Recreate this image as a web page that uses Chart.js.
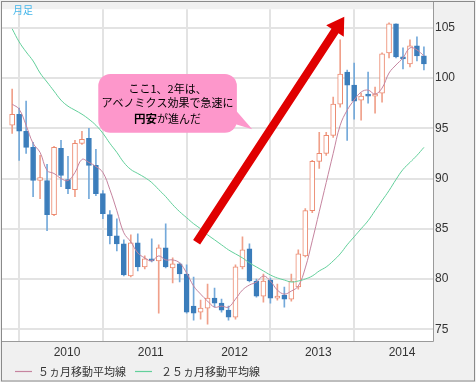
<!DOCTYPE html>
<html><head><meta charset="utf-8">
<script src="https://cdn.jsdelivr.net/npm/chart.js@4.4.1/dist/chart.umd.min.js"></script>
<style>html,body{margin:0;padding:0;background:#f0f0f0;overflow:hidden}canvas{display:block}</style>
</head><body>
<canvas id="c" width="476" height="382"></canvas>
<script>
const months = [
 '2009-06','2009-07','2009-08','2009-09','2009-10','2009-11','2009-12',
 '2010-01','2010-02','2010-03','2010-04','2010-05','2010-06','2010-07','2010-08','2010-09','2010-10','2010-11','2010-12',
 '2011-01','2011-02','2011-03','2011-04','2011-05','2011-06','2011-07','2011-08','2011-09','2011-10','2011-11','2011-12',
 '2012-01','2012-02','2012-03','2012-04','2012-05','2012-06','2012-07','2012-08','2012-09','2012-10','2012-11','2012-12',
 '2013-01','2013-02','2013-03','2013-04','2013-05','2013-06','2013-07','2013-08','2013-09','2013-10','2013-11','2013-12',
 '2014-01','2014-02','2014-03','2014-04','2014-05'
];
const openV  = [95.3,96.4,94.7,93.1,89.8,89.8,86.4,93.0,89.9,88.9,93.5,94.0,91.3,88.5,86.4,84.3,83.5,80.3,83.6,81.2,82.0,81.8,83.1,81.1,81.5,80.5,77.3,76.7,77.1,78.1,77.6,76.9,76.2,81.2,83.0,79.8,78.3,79.9,78.1,78.4,78.0,79.2,82.3,86.8,91.7,92.5,94.3,97.4,100.6,99.3,97.8,98.4,98.2,98.5,102.5,105.4,102.1,101.4,103.2,102.2];
const highV  = [98.9,97.0,97.7,93.6,92.3,91.4,93.2,93.8,92.2,93.8,94.7,95.0,92.9,88.8,86.8,86.0,83.9,84.4,84.5,82.3,84.0,83.4,85.5,82.1,81.6,81.4,80.2,77.9,79.5,79.1,78.0,77.3,81.4,84.2,83.5,80.0,80.5,80.1,79.5,79.2,80.5,82.9,87.0,91.8,94.6,94.6,98.1,103.8,100.8,101.5,98.5,100.6,99.1,102.5,105.5,105.4,103.0,103.8,104.1,103.1];
const lowV   = [94.5,91.8,92.5,88.2,88.0,84.8,86.3,89.2,88.5,88.2,93.4,88.0,88.3,86.0,83.5,82.8,80.3,80.2,80.8,81.0,81.7,76.6,81.1,79.6,79.7,76.6,75.9,76.0,75.5,77.2,76.7,75.9,76.0,81.0,79.7,78.2,77.7,77.6,77.9,77.2,77.8,79.0,82.2,86.6,91.0,92.3,94.1,97.1,93.8,95.9,95.8,97.5,96.5,97.6,102.0,102.0,100.9,101.1,101.7,100.8];
const closeV = [96.4,94.7,93.1,89.8,90.1,86.4,93.1,90.3,89.0,93.5,93.9,91.3,88.5,86.5,84.3,83.5,80.4,83.6,81.2,82.0,81.8,83.1,81.2,81.5,80.5,76.7,76.6,77.1,78.1,77.6,76.9,76.2,81.2,82.9,79.8,78.3,79.8,78.1,78.3,78.0,79.8,82.5,86.8,91.7,92.5,94.3,97.4,100.4,99.3,97.7,98.2,98.2,98.4,102.4,105.4,102.1,101.9,103.2,102.2,101.4];
const ma5    = [97.4,96.9,95.3,93.5,92.6,90.8,90.5,90.0,89.8,90.6,91.9,91.6,91.2,90.6,88.9,86.8,84.6,83.7,82.6,82.1,81.8,82.3,81.9,81.9,81.6,80.6,79.3,78.5,77.8,77.2,77.3,77.2,78.0,78.9,79.4,79.7,80.3,79.8,78.9,78.5,78.8,79.3,81.1,83.8,86.7,89.6,92.5,95.3,96.8,97.8,98.6,98.8,98.4,99.0,100.5,101.3,102.0,103.0,102.8,102.2];
const ma25   = [104.9,103.6,102.6,101.7,100.5,99.6,98.7,97.8,97.2,96.8,96.4,95.9,95.3,94.5,93.5,92.6,91.6,90.9,90.5,90.1,89.6,88.9,88.2,87.4,86.7,86.1,85.5,85.0,84.4,83.9,83.4,82.9,82.5,82.1,81.6,81.2,80.8,80.4,80.1,79.9,79.7,79.8,80.0,80.3,80.8,81.2,81.8,82.5,83.4,84.2,85.0,85.8,86.8,87.8,88.8,89.9,90.9,91.6,92.3,93.1];
const yTicks = [75,80,85,90,95,100,105];
const seriesNames = ['５ヵ月移動平均線','２５ヵ月移動平均線'];
const periodLabel = '月足';
const calloutLines = ['ここ1、2年は、','アベノミクス効果で急速に'];
const calloutBold = '円安';
const calloutTail = 'が進んだ';

const UP='#ec8a70', UPW='#f0a08a', DN='#3b7dbb', DNW='#74a9da';
const PINK='#c6849f', GREEN='#62d09b';
const idx = months.map((m,i)=>i);
const upIdx = idx.filter(i=>closeV[i]>=openV[i]);
const dnIdx = idx.filter(i=>closeV[i]<openV[i]);
const JP = '"Noto Sans CJK JP"';

const deco = {
  id:'deco',
  beforeDraw(chart){
    const {ctx, chartArea:a} = chart;
    ctx.save();
    ctx.fillStyle='#f0f0f0'; ctx.fillRect(0,0,chart.width,chart.height);
    ctx.fillStyle='#ffffff'; ctx.fillRect(a.left,a.top,a.right-a.left,a.bottom-a.top);
    ctx.restore();
  },
  afterDraw(chart){
    const {ctx, chartArea:a, scales:{x,y}} = chart;
    ctx.save();
    // arrow
    const t0 = {x:x.getPixelForValue(26.43), y:y.getPixelForValue(83.65)};
    const t1 = {x:x.getPixelForValue(47.59), y:y.getPixelForValue(106.1)};
    const dx=t1.x-t0.x, dy=t1.y-t0.y, L=Math.hypot(dx,dy), ux=dx/L, uy=dy/L, px=-uy, py=ux;
    const sw=4.2, hw=10.5, hl=17;
    const bx=t1.x-ux*hl, by=t1.y-uy*hl;
    ctx.fillStyle='#e00000';
    ctx.beginPath();
    ctx.moveTo(t0.x+px*sw,t0.y+py*sw);
    ctx.lineTo(bx+px*sw,by+py*sw);
    ctx.lineTo(bx+px*hw,by+py*hw);
    ctx.lineTo(t1.x,t1.y);
    ctx.lineTo(bx-px*hw,by-py*hw);
    ctx.lineTo(bx-px*sw,by-py*sw);
    ctx.lineTo(t0.x-px*sw,t0.y-py*sw);
    ctx.closePath(); ctx.fill();
    // callout
    const L0=x.getPixelForValue(12.34), R0=x.getPixelForValue(32.2);
    const T0=y.getPixelForValue(100.4), B0=y.getPixelForValue(94.56);
    ctx.fillStyle='#fd97cb';
    ctx.beginPath(); ctx.roundRect(L0,T0,R0-L0,B0-T0,12); ctx.fill();
    ctx.beginPath();
    ctx.moveTo(R0-2, T0+(B0-T0)*0.6);
    ctx.lineTo(x.getPixelForValue(34.4), y.getPixelForValue(94.9));
    ctx.lineTo(R0-2, T0+(B0-T0)*0.85);
    ctx.closePath(); ctx.fill();
    const xc=(L0+R0)/2;
    ctx.fillStyle='#000'; ctx.textBaseline='middle'; ctx.textAlign='center';
    ctx.font='11px '+JP;
    ctx.fillText(calloutLines[0], xc, T0+15);
    ctx.fillText(calloutLines[1], xc, T0+29);
    ctx.textAlign='left';
    ctx.font='bold 11.5px '+JP; const wb=ctx.measureText(calloutBold).width;
    ctx.font='11px '+JP; const wt=ctx.measureText(calloutTail).width;
    const sx=xc-(wb+wt)/2;
    ctx.font='bold 11.5px '+JP; ctx.fillText(calloutBold, sx, T0+45);
    ctx.font='11px '+JP; ctx.fillText(calloutTail, sx+wb, T0+45);
    // period label
    ctx.fillStyle='#45b6ea'; ctx.font='10px '+JP;
    ctx.fillText(periodLabel, 13, 10);
    // legend
    const ly=371.5;
    const items=[{c:PINK,x0:15,tx:38},{c:GREEN,x0:135,tx:161}];
    items.forEach((it,k)=>{
      ctx.strokeStyle=it.c; ctx.lineWidth=1.2;
      ctx.beginPath(); ctx.moveTo(it.x0,ly); ctx.lineTo(it.x0+17,ly); ctx.stroke();
      ctx.fillStyle='#333'; ctx.font='11px '+JP;
      ctx.fillText(chart.data.datasets[4+k].label, it.tx, ly);
    });
    // frames
    ctx.strokeStyle='#9a9a9a'; ctx.lineWidth=1;
    ctx.beginPath();
    ctx.moveTo(Math.round(a.right)+0.5,1.5); ctx.lineTo(Math.round(a.right)+0.5,Math.round(a.bottom)+0.5);
    ctx.lineTo(1.5,Math.round(a.bottom)+0.5); ctx.stroke();
    ctx.strokeStyle='#8a8a8a';
    ctx.strokeRect(1.5,1.5,chart.width-3,chart.height-2.5);
    ctx.restore();
  }
};

new Chart(document.getElementById('c'), {
  type:'bar',
  data:{
    datasets:[
      {label:'upWick', data:upIdx.map(i=>({x:i,y:[lowV[i],highV[i]]})), backgroundColor:UPW, barThickness:1, grouped:false, order:10},
      {label:'dnWick', data:dnIdx.map(i=>({x:i,y:[lowV[i],highV[i]]})), backgroundColor:DNW, barThickness:1, grouped:false, order:10},
      {label:'up', data:upIdx.map(i=>({x:i,y:[openV[i],closeV[i]]})), backgroundColor:'#ffffff', borderColor:UP, borderWidth:1, borderSkipped:false, barThickness:5, grouped:false, order:5},
      {label:'down', data:dnIdx.map(i=>({x:i,y:[openV[i],closeV[i]]})), backgroundColor:DN, borderColor:DN, borderWidth:1, borderSkipped:false, barThickness:5, grouped:false, order:5},
      {type:'line', label:seriesNames[0], data:idx.map(i=>({x:i,y:ma5[i]})), borderColor:PINK, borderWidth:1, pointRadius:0, tension:0.4, order:2},
      {type:'line', label:seriesNames[1], data:idx.map(i=>({x:i,y:ma25[i]})), borderColor:GREEN, borderWidth:1, pointRadius:0, tension:0.4, order:1}
    ]
  },
  options:{
    responsive:false, animation:false, devicePixelRatio:1,
    layout:{padding:{left:2,top:2,right:0,bottom:21}},
    plugins:{legend:{display:false}, tooltip:{enabled:false}},
    scales:{
      x:{type:'linear', min:-1.455, max:60.3, offset:false,
        grid:{color:'#e3e3e3', lineWidth:2, drawTicks:false},
        border:{display:false},
        ticks:{padding:4, labelOffset:6, color:'#333', font:{family:'Liberation Sans', size:12}, autoSkip:false, maxRotation:0,
          callback:(v)=>months[v]?months[v].slice(0,4):''},
        afterBuildTicks:(s)=>{s.ticks=idx.filter(i=>months[i].endsWith('-01')).map(v=>({value:v}));},
        afterFit:(s)=>{s.height=20;}
      },
      y:{position:'right', min:73.83, max:106.85,
        grid:{color:'#e3e3e3', lineWidth:2, drawTicks:false},
        border:{display:false},
        ticks:{padding:2, color:'#333', font:{family:'Liberation Sans', size:12}},
        afterBuildTicks:(s)=>{s.ticks=yTicks.map(v=>({value:v}));},
        afterFit:(s)=>{s.width=43;}
      }
    }
  },
  plugins:[deco]
});
</script>
</body></html>
